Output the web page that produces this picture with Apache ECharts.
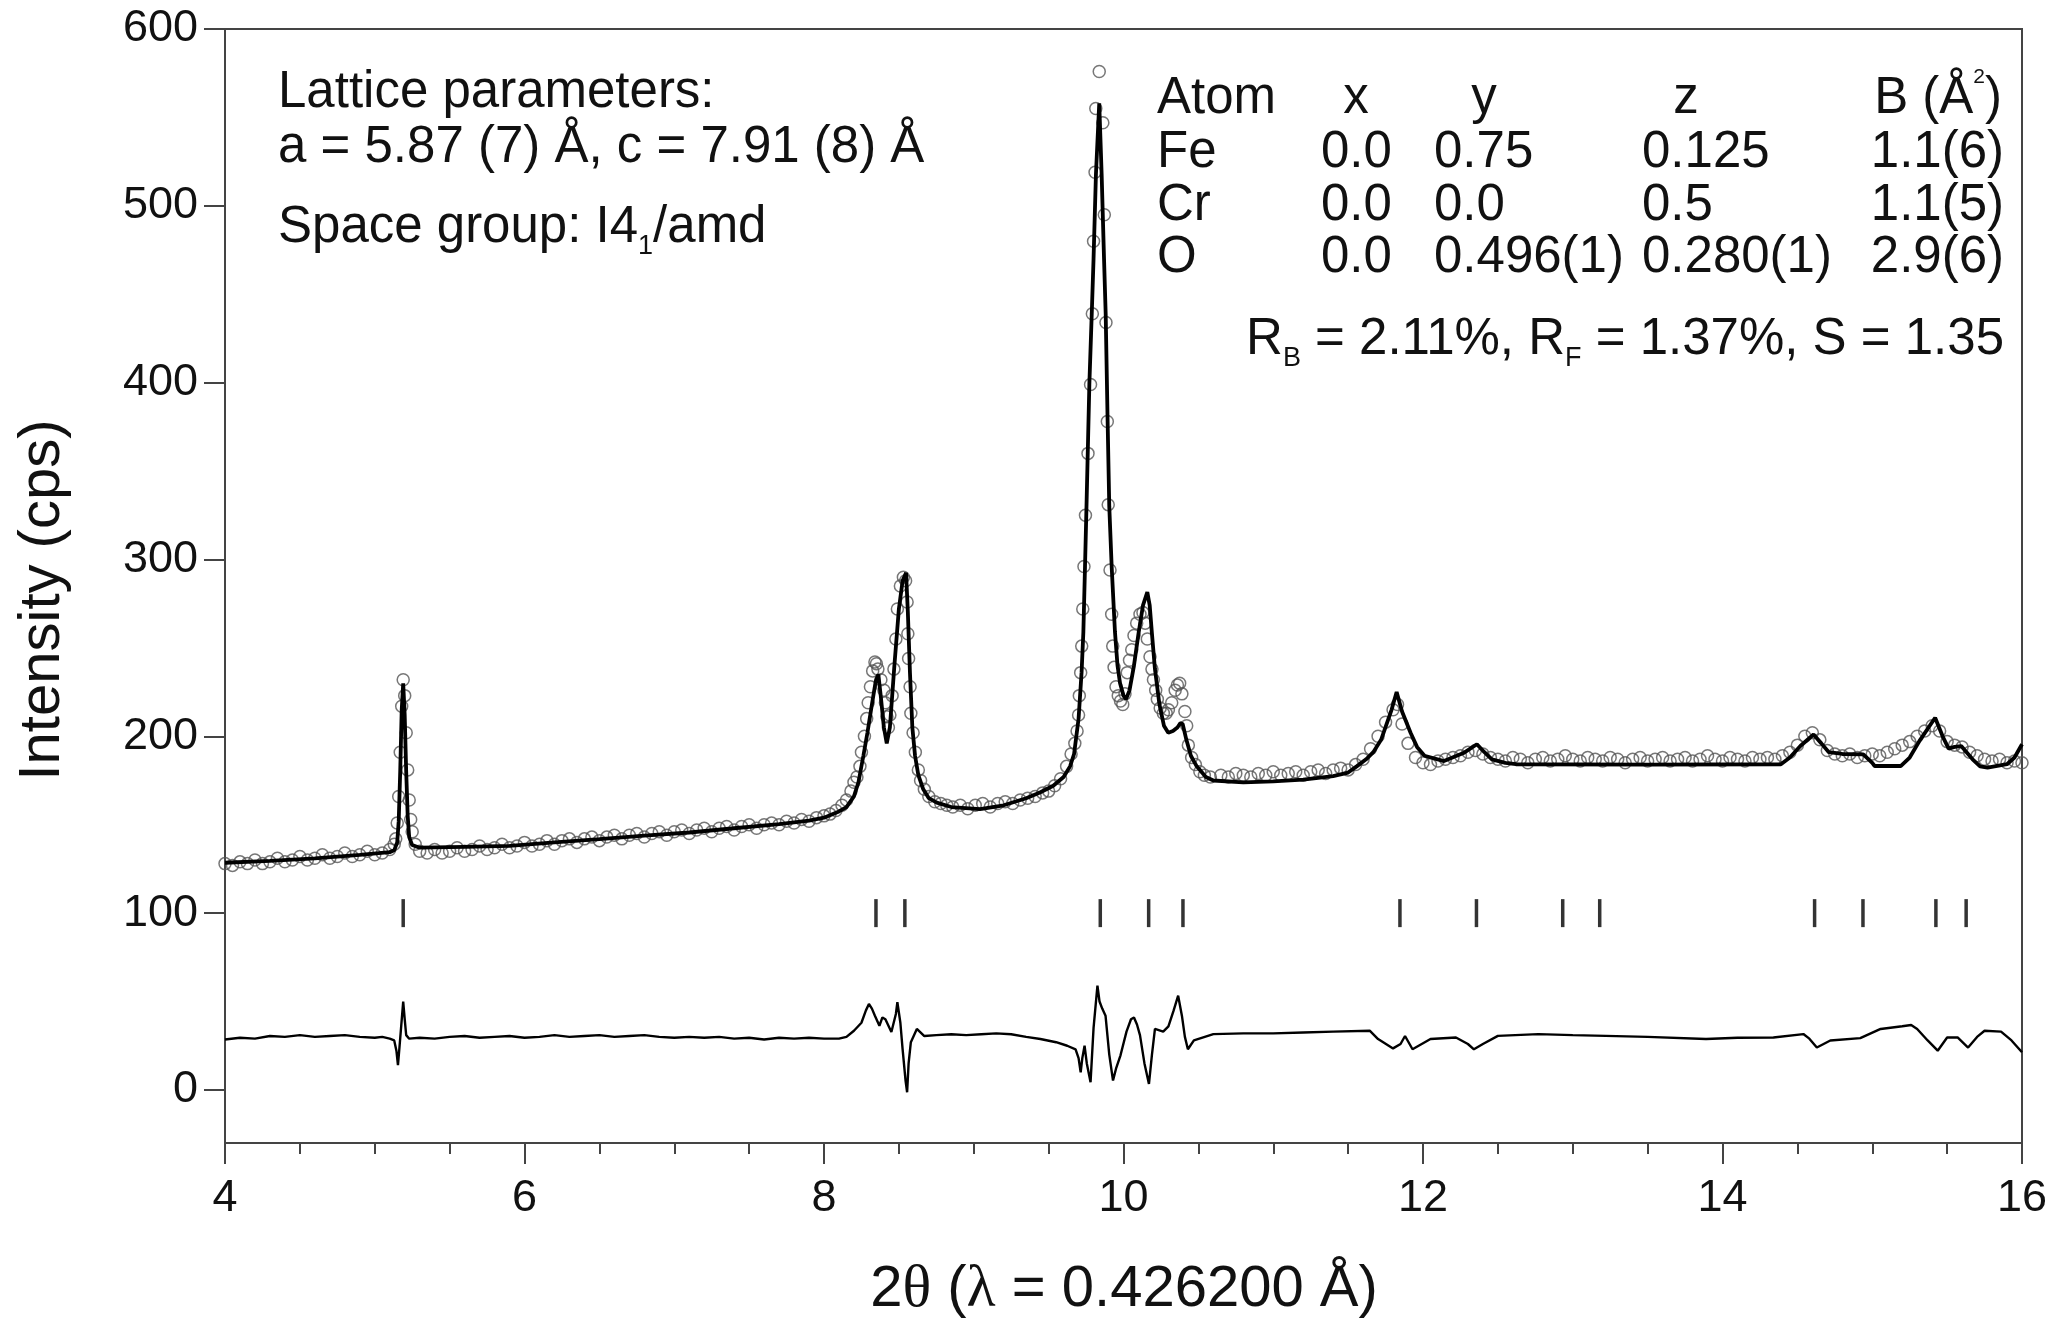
<!DOCTYPE html>
<html>
<head>
<meta charset="utf-8">
<script src="https://cdn.jsdelivr.net/npm/echarts@6.0.0/dist/echarts.min.js"></script>
<style>
html,body{margin:0;padding:0;background:#fff}
#chart{width:2054px;height:1320px}
</style>
</head>
<body>
<div id="chart"></div>
<script>
// observed intensity (open circles)
var observed = [
[4.00,128],[4.05,127],[4.10,129],[4.15,128],[4.20,130],[4.25,128],[4.30,129],[4.35,131],[4.40,129],[4.45,130],
[4.50,132],[4.55,130],[4.60,131],[4.65,133],[4.70,131],[4.75,132],[4.80,134],[4.85,132],[4.90,133],[4.95,135],
[5.00,133],[5.05,134],[5.10,136],
[5.13,139],[5.14,142],[5.15,151],[5.16,166],[5.17,191],[5.18,217],[5.19,232],[5.20,223],[5.21,202],[5.22,181],
[5.23,164],[5.24,153],[5.25,146],[5.27,139],[5.30,135],
[5.35,134],[5.40,136],[5.45,134],[5.50,135],[5.55,137],[5.60,135],[5.65,136],[5.70,138],[5.75,136],[5.80,137],
[5.85,139],[5.90,137],[5.95,138],[6.00,140],[6.05,138],[6.10,139],[6.15,141],[6.20,139],[6.25,141],[6.30,142],
[6.35,140],[6.40,142],[6.45,143],[6.50,141],[6.55,143],[6.60,144],[6.65,142],[6.70,144],[6.75,145],[6.80,143],
[6.85,145],[6.90,146],[6.95,144],[7.00,146],[7.05,147],[7.10,145],[7.15,147],[7.20,148],[7.25,146],[7.30,148],
[7.35,149],[7.40,147],[7.45,149],[7.50,150],[7.55,148],[7.60,150],[7.65,151],[7.70,150],[7.75,152],[7.80,151],
[7.85,153],[7.90,152],[7.95,154],[8.00,155],
[8.04,156],[8.08,158],[8.12,161],[8.15,164],[8.18,169],[8.20,174],[8.22,177],[8.24,183],[8.25,191],[8.27,200],
[8.285,210],[8.295,219],[8.31,228],[8.325,237],[8.34,242],[8.35,241],[8.36,238],[8.38,232],[8.40,226],[8.41,219],
[8.42,211],[8.43,205],[8.44,212],[8.455,223],[8.467,238],[8.48,255],[8.49,272],[8.51,285],[8.53,290],[8.545,288],
[8.555,276],[8.56,258],[8.565,244],[8.575,228],[8.58,213],[8.595,202],[8.61,191],[8.63,181],[8.645,175],[8.67,170],
[8.70,166],[8.74,163],[8.78,162],[8.82,161],
[8.86,160],[8.91,161],[8.96,159],[9.01,161],[9.06,162],[9.11,160],[9.16,162],[9.21,163],[9.26,162],[9.31,164],
[9.36,165],[9.41,166],[9.46,168],[9.50,169],[9.54,172],[9.58,176],[9.62,183],[9.65,190],[9.675,196],[9.69,203],
[9.70,212],[9.705,223],[9.714,236],[9.721,251],[9.728,272],[9.736,296],[9.746,325],[9.763,360],[9.78,399],[9.792,439],
[9.80,480],[9.81,519],[9.815,555],[9.838,576],[9.862,547],[9.872,495],[9.883,434],[9.892,378],[9.898,331],[9.91,294],
[9.921,269],[9.928,251],[9.937,239],[9.95,228],[9.965,223],[9.98,220],[9.995,218],[10.01,224],[10.025,236],[10.04,243],
[10.055,249],[10.07,257],[10.088,264],[10.11,269],[10.13,270],[10.145,264],[10.159,255],[10.177,245],[10.19,238],[10.20,232],
[10.215,226],[10.226,221],[10.245,216],[10.266,213],[10.285,213],[10.30,215],[10.322,219],[10.345,226],[10.36,229],[10.375,230],
[10.39,224],[10.41,214],[10.422,206],[10.433,195],[10.455,188],[10.48,184],[10.51,180],[10.54,178],[10.58,177],
[10.65,178],[10.70,177],[10.75,179],[10.80,178],[10.85,177],[10.90,179],[10.95,178],[11.00,180],[11.05,178],[11.10,179],
[11.15,180],[11.20,178],[11.25,180],[11.30,181],[11.35,179],[11.40,181],[11.45,182],[11.50,181],[11.55,184],[11.60,187],
[11.65,193],[11.70,200],[11.75,208],[11.80,215],[11.83,218],[11.86,207],[11.90,196],[11.95,188],[12.00,185],[12.05,184],
[12.10,186],[12.15,187],[12.20,188],[12.25,189],[12.30,191],[12.35,192],[12.40,190],[12.45,188],[12.50,187],[12.55,186],
[12.60,188],[12.65,187],[12.70,185],[12.75,187],[12.80,188],[12.85,186],[12.90,187],[12.95,189],[13.00,187],[13.05,186],
[13.10,188],[13.15,187],[13.20,186],[13.25,188],[13.30,187],[13.35,185],[13.40,187],[13.45,188],[13.50,186],[13.55,187],
[13.60,188],[13.65,186],[13.70,187],[13.75,188],[13.80,186],[13.85,187],[13.90,189],[13.95,187],[14.00,186],[14.05,188],
[14.10,187],[14.15,186],[14.20,188],[14.25,187],[14.30,188],[14.35,187],[14.40,189],[14.45,191],[14.50,195],[14.55,200],
[14.60,202],[14.65,198],[14.70,192],[14.75,190],[14.80,189],[14.85,190],[14.90,188],[14.95,189],[15.00,190],[15.05,189],
[15.10,191],[15.15,193],[15.20,195],[15.25,197],[15.30,200],[15.35,203],[15.40,206],[15.45,203],[15.50,197],[15.55,195],
[15.60,194],[15.65,191],[15.70,189],[15.75,187],[15.80,186],[15.85,187],[15.90,185],[15.95,186],[16.00,185]
];

// calculated profile (thick line)
var calculated = [
[4.0,128.5],[4.3,129.5],[4.6,131],[4.9,133],[5.1,134.5],[5.13,135.5],[5.15,140],[5.16,152],[5.17,180],[5.18,215],
[5.19,230],[5.20,212],[5.21,180],[5.22,155],[5.23,143],[5.25,138.5],[5.30,137],[5.6,137.5],[5.9,138],[6.2,140],
[6.5,141.8],[6.8,143.8],[7.1,145.6],[7.4,148],[7.7,150.3],[7.9,152.3],[8.0,154],[8.1,157.5],[8.15,160],[8.2,166],
[8.23,174],[8.263,189],[8.29,202],[8.318,217],[8.345,231],[8.363,235],[8.38,222],[8.40,205],[8.419,196],[8.44,205],
[8.47,240],[8.50,272],[8.525,288],[8.548,292.5],[8.56,270],[8.574,236],[8.59,205],[8.608,189],[8.63,178],[8.663,170],
[8.70,165],[8.753,162.5],[8.85,160],[9.042,158.8],[9.2,161],[9.35,165],[9.442,168.2],[9.531,172],[9.6,177],[9.643,183],
[9.67,190],[9.688,202],[9.70,210],[9.72,236],[9.732,259],[9.743,296],[9.754,334],[9.772,399],[9.788,439],[9.80,470],
[9.816,518],[9.838,558],[9.854,518],[9.87,470],[9.881,439],[9.894,378],[9.905,330],[9.921,296],[9.943,259],[9.96,240],
[9.977,230],[10.0,223],[10.017,221],[10.04,226],[10.07,240],[10.10,258],[10.13,274],[10.159,281.5],[10.175,274],[10.19,258],
[10.21,238],[10.24,218],[10.27,206],[10.299,202],[10.33,203],[10.36,205],[10.38,207.5],[10.395,207],[10.42,198],[10.45,189],
[10.489,183],[10.55,177],[10.6,175],[10.8,174],[11.0,174.5],[11.2,175.5],[11.4,177.5],[11.5,179.5],[11.557,183],[11.62,187],
[11.668,191],[11.72,198],[11.79,215],[11.824,225],[11.86,214],[11.917,202],[11.96,194],[12.01,189],[12.14,186],[12.27,190.5],
[12.36,195.5],[12.41,191],[12.46,187],[12.55,185],[12.62,184.2],[13.5,184],[14.39,184.2],[14.45,188],[14.52,194.5],[14.608,201],
[14.66,196],[14.71,191],[14.8,190],[14.94,189.8],[15.0,185],[15.016,183.2],[15.19,183.2],[15.25,188],[15.32,198],[15.42,210.5],
[15.47,200],[15.51,193],[15.55,194],[15.594,194.5],[15.67,187],[15.72,183],[15.77,182.3],[15.90,184.2],[15.95,188],[16.0,195.5]
];

// difference curve (offset, drawn around 30)
var difference = [
[4.0,28.5],[4.1,29.5],[4.2,29],[4.3,30.5],[4.4,30],[4.5,31],[4.6,30],[4.7,30.5],[4.8,31],[4.9,30],
[5.0,29.5],[5.05,30],[5.1,29],[5.13,28],[5.145,22],[5.155,14],[5.165,24],[5.175,23],[5.19,50],[5.2,40],
[5.21,31],[5.23,29],[5.3,29.5],[5.4,29],[5.5,30],[5.6,30.5],[5.7,29.5],[5.8,30],[5.9,30.5],[6.0,29.5],
[6.1,30],[6.2,31],[6.3,30],[6.4,30.5],[6.5,31],[6.6,30],[6.7,30.5],[6.8,31],[6.9,30],[7.0,29.5],
[7.1,30],[7.2,29.5],[7.3,30],[7.4,29],[7.5,29.5],[7.6,28.5],[7.7,29.5],[7.8,29],[7.9,29.5],[8.0,29],
[8.1,29],[8.15,30],[8.2,33.5],[8.25,38],[8.28,45],[8.30,48.6],[8.32,46],[8.34,42],[8.37,36.3],[8.39,41],
[8.41,40],[8.45,32.8],[8.48,43],[8.49,49.7],[8.51,38],[8.525,23],[8.545,5],[8.555,-1.3],[8.565,15],[8.58,27],
[8.62,34.5],[8.67,30.5],[8.75,31],[8.85,31.5],[8.95,31],[9.05,31.5],[9.15,32],[9.25,31.5],[9.35,30],[9.445,28.8],
[9.55,27],[9.624,25],[9.68,23],[9.70,18],[9.714,10],[9.725,18],[9.74,25],[9.755,15],[9.78,4.4],[9.80,35],
[9.826,59],[9.84,50],[9.858,46],[9.88,42],[9.905,20],[9.93,5.3],[9.95,12],[9.98,19.6],[10.02,33],[10.05,40],
[10.07,41],[10.09,37],[10.11,31],[10.14,15],[10.17,3.4],[10.19,20],[10.21,34.5],[10.265,33],[10.30,36],[10.335,45],
[10.365,53.3],[10.39,42],[10.41,30],[10.43,23],[10.47,28],[10.6,31.6],[10.8,32],[11.0,32],[11.2,32.5],[11.4,33],
[11.644,33.5],[11.7,28.8],[11.80,23.5],[11.85,26],[11.88,30.5],[11.93,23],[12.05,28.8],[12.22,29.7],[12.30,26],[12.34,23],
[12.4,26],[12.5,30.6],[12.77,31.6],[13.0,31],[13.22,30.6],[13.5,30],[13.89,28.8],[14.1,29.5],[14.34,29.7],[14.54,31.6],
[14.58,29],[14.63,24],[14.72,28],[14.92,29.3],[15.056,34.5],[15.2,36],[15.26,36.7],[15.30,34.5],[15.37,28],[15.437,22.2],
[15.50,29.7],[15.57,29.7],[15.64,24],[15.7,30],[15.75,33.5],[15.86,33],[15.93,28],[16.0,21.3]
];

// Bragg reflection positions (tick marks at 100 cps)
var braggPositions = [5.19, 8.347, 8.54, 9.845, 10.168, 10.397, 11.846, 12.357, 12.933, 13.18, 14.615, 14.938, 15.425, 15.627];
var braggLevel = 100;

var yTicks = [0, 100, 200, 300, 400, 500, 600];

var tableHeader = ['Atom', 'x', 'y', 'z', 'B (Å{sup|2})'];
var tableRows = [
  ['Fe', '0.0', '0.75', '0.125', '1.1(6)'],
  ['Cr', '0.0', '0.0', '0.5', '1.1(5)'],
  ['O', '0.0', '0.496(1)', '0.280(1)', '2.9(6)']
];

var FONT = 'Liberation Sans';
var INK = '#111';

var richStyles = {
  sub: { fontSize: 27, fontFamily: FONT, fill: INK, lineHeight: 34, verticalAlign: 'bottom' },
  sup: { fontSize: 21, fontFamily: FONT, fill: INK, lineHeight: 32, verticalAlign: 'top' },
  g: { fontSize: 60, fontFamily: 'Liberation Serif', fill: INK }
};

function label(text, x, y, align, size) {
  return {
    type: 'text', x: x, y: y, silent: true,
    style: {
      text: text, fill: INK, fontSize: size || 51, fontFamily: FONT,
      align: align || 'left', verticalAlign: 'middle', lineHeight: 64,
      rich: richStyles
    }
  };
}

var bragg = braggPositions.map(function (p) { return [p, braggLevel]; });

var graphics = [
  label('Lattice parameters:', 278, 93),
  label('a = 5.87 (7) Å, c = 7.91 (8) Å', 278, 148),
  label('Space group: I4{sub|1}/amd', 278, 228),
  label('R{sub|B} = 2.11%, R{sub|F} = 1.37%, S = 1.35', 2004, 340, 'right'),
  label('2{g|θ} ({g|λ} = 0.426200 Å)', 1124, 1290, 'center', 58),
  {
    type: 'text', x: 43, y: 600, rotation: Math.PI / 2, silent: true,
    style: { text: 'Intensity (cps)', fill: INK, fontSize: 58, fontFamily: FONT, align: 'center', verticalAlign: 'middle' }
  }
];

// table: column anchors
var colX = [1157, 1321, 1434, 1642, 2004];
var colAlign = ['left', 'left', 'left', 'left', 'right'];
var headX = [1157, 1356, 1484, 1686, 2002];
var headAlign = ['left', 'center', 'center', 'center', 'right'];
var rowY = [99, 153, 206, 258];

tableHeader.forEach(function (h, i) {
  graphics.push(label(h, headX[i], rowY[0], headAlign[i]));
});
tableRows.forEach(function (row, r) {
  row.forEach(function (cell, c) {
    graphics.push(label(cell, colX[c], rowY[r + 1], colAlign[c]));
  });
});

var chart = echarts.init(document.getElementById('chart'));
chart.setOption({
  animation: false,
  backgroundColor: '#fff',
  grid: { left: 225, right: 32, top: 29, bottom: 177, show: true, borderColor: '#444', borderWidth: 2 },
  xAxis: {
    type: 'value', min: 4, max: 16, interval: 2,
    axisLine: { onZero: false, lineStyle: { color: '#444', width: 2 } },
    axisTick: { inside: false, length: 21, lineStyle: { color: '#444', width: 2 } },
    minorTick: { show: true, splitNumber: 4, length: 11, lineStyle: { color: '#444', width: 2 } },
    splitLine: { show: false },
    axisLabel: { fontSize: 45, fontFamily: FONT, color: INK, margin: 33 }
  },
  yAxis: {
    type: 'value', min: -30, max: 600,
    axisLine: { show: true, onZero: false, lineStyle: { color: '#444', width: 2 } },
    axisTick: { show: true, inside: false, length: 21, customValues: yTicks, lineStyle: { color: '#444', width: 2 } },
    splitLine: { show: false },
    axisLabel: { fontSize: 45, fontFamily: FONT, color: INK, margin: 27, customValues: yTicks }
  },
  graphic: graphics,
  series: [
    {
      name: 'observed', type: 'scatter', data: observed,
      symbol: 'circle', symbolSize: 12, z: 2,
      itemStyle: { color: 'rgba(0,0,0,0)', borderColor: '#555', borderWidth: 1.5 }
    },
    {
      name: 'calculated', type: 'line', data: calculated,
      showSymbol: false, z: 3,
      lineStyle: { color: '#000', width: 3.8 }
    },
    {
      name: 'bragg', type: 'scatter', data: bragg,
      symbol: 'rect', symbolSize: [3.5, 28], z: 3,
      itemStyle: { color: '#000' }
    },
    {
      name: 'difference', type: 'line', data: difference,
      showSymbol: false, z: 3,
      lineStyle: { color: '#000', width: 2.4 }
    }
  ]
});
</script>
</body>
</html>
